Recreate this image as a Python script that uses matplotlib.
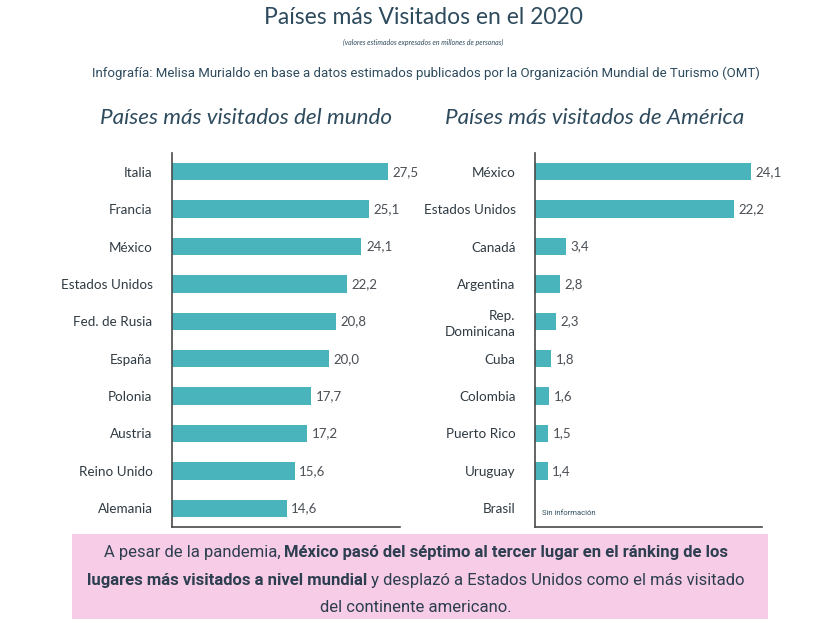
import matplotlib
matplotlib.use("Agg")
import matplotlib.pyplot as plt
from matplotlib.patches import Rectangle

world_countries = ["Italia", "Francia", "México", "Estados Unidos", "Fed. de Rusia",
                   "España", "Polonia", "Austria", "Reino Unido", "Alemania"]
world_values = [27.5, 25.1, 24.1, 22.2, 20.8, 20.0, 17.7, 17.2, 15.6, 14.6]

america_countries = ["México", "Estados Unidos", "Canadá", "Argentina", "Rep.\nDominicana",
                     "Cuba", "Colombia", "Puerto Rico", "Uruguay", "Brasil"]
america_values = [24.1, 22.2, 3.4, 2.8, 2.3, 1.8, 1.6, 1.5, 1.4, None]

W, H = 832, 624
fig = plt.figure(figsize=(W / 100, H / 100), dpi=100)
fig.patch.set_facecolor("white")

BAR = "#4ab4bc"
DARK = "#2e4b5e"
LABEL = "#2f3a42"
VAL = "#4a4f55"


def ax_rect(x0, y0, x1, y1):
    return [x0 / W, 1 - y1 / H, (x1 - x0) / W, (y1 - y0) / H]


def draw_panel(rect, cats, vals, xmax, title, title_x):
    ax = fig.add_axes(rect)
    pos = list(range(len(cats)))
    for p, v in zip(pos, vals):
        if v is None:
            ax.text(xmax * 0.03, p + 0.12, "Sin información", fontsize=5.5, color=DARK,
                    family="Roboto", va="center", ha="left")
            continue
        ax.barh(p, v, height=0.46, color=BAR)
        ax.text(v + xmax * 0.02, p, f"{v:.1f}".replace(".", ","), va="center",
                ha="left", fontsize=9.5, color=VAL, family="Lato")
    ax.set_ylim(len(cats) - 0.5, -0.5)
    ax.set_xlim(0, xmax)
    ax.set_yticks(pos)
    ax.set_yticklabels(cats, fontsize=9.7, color=LABEL, family="Lato", ha="right",
                       linespacing=1.35)
    ax.tick_params(axis="y", length=0, pad=14)
    ax.set_xticks([])
    for s in ["top", "right"]:
        ax.spines[s].set_visible(False)
    for s in ["left", "bottom"]:
        ax.spines[s].set_color("#4a4a4a")
        ax.spines[s].set_linewidth(1.2)
    fig.text(title_x / W, 1 - 118 / H, title, fontsize=16.2, style="italic",
             color=DARK, family="Lato", ha="center", va="center")
    return ax


draw_panel(ax_rect(172, 153, 400, 527), world_countries, world_values, 29.0,
           "Países más visitados del mundo", 246)
draw_panel(ax_rect(535, 153, 762, 527), america_countries, america_values, 25.3,
           "Países más visitados de América", 595)

# Titles
fig.text(423 / W, 1 - 18 / H, "Países más Visitados en el 2020", fontsize=16.5,
         color=DARK, family="Lato", ha="center", va="center")
fig.text(423 / W, 1 - 42 / H, "(valores estimados expresados en millones de personas)",
         fontsize=5, style="italic", color=DARK, family="Lato", ha="center", va="center")
fig.text(426 / W, 1 - 73 / H,
         "Infografía: Melisa Murialdo en base a datos estimados publicados por la Organización Mundial de Turismo (OMT)",
         fontsize=9.5, color=DARK, family="Roboto", ha="center", va="center")

# Pink box
fig.patches.append(Rectangle((72 / W, 1 - 619 / H), (768 - 72) / W, (619 - 534) / H,
                             transform=fig.transFigure, facecolor="#f6cce6",
                             edgecolor="none", zorder=0))

lines = [
    [("A pesar de la pandemia, ", "normal"),
     ("México pasó del séptimo al tercer lugar en el ránking de los", "bold")],
    [("lugares más visitados a nivel mundial", "bold"),
     (" y desplazó a Estados Unidos como el más visitado", "normal")],
    [("del continente americano.", "normal")],
]
ys = [553, 580, 607]
renderer = fig.canvas.get_renderer()
for parts, y in zip(lines, ys):
    texts = []
    for s, w in parts:
        t = fig.text(0, 1 - y / H, s, fontsize=12, weight=w, color="#2d3e50",
                     family="Roboto", ha="left", va="center")
        texts.append(t)
    widths = [t.get_window_extent(renderer).width for t in texts]
    total = sum(widths)
    x = 416 - total / 2
    for t, wdt in zip(texts, widths):
        t.set_x(x / W)
        x += wdt

fig.savefig("out.png", dpi=100, facecolor="white")
